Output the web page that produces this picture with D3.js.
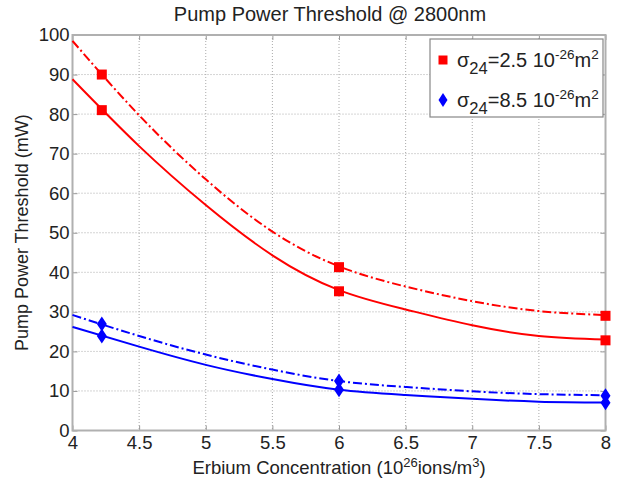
<!DOCTYPE html>
<html>
<head>
<meta charset="utf-8">
<script src="https://cdn.jsdelivr.net/npm/d3@7"></script>
<style>
body { margin: 0; background: #fff; }
text { font-family: "Liberation Sans", Arial, sans-serif; fill: #222; }
</style>
</head>
<body>
<svg></svg>
<script>
// curve samples
var xCurve = [4, 4.5, 5, 5.5, 6, 6.5, 7, 7.5, 8];
var redSolid = [88.8, 71.9, 57.0, 44.3, 35.5, 30.6, 26.6, 23.9, 23.0];
var redDash = [98.5, 79.7, 63.5, 50.3, 41.5, 36.4, 32.7, 30.2, 29.2];
var blueSolid = [26.2, 21.2, 16.6, 13.0, 10.3, 9.0, 8.0, 7.3, 7.1];
var blueDash = [29.2, 23.9, 19.2, 15.4, 12.5, 11.0, 9.9, 9.2, 8.9];

// marker points
var xMark = [4.22, 6, 8];
var redSolidMark = [81.0, 35.2, 22.8];
var redDashMark = [90.0, 41.3, 29.0];
var blueSolidMark = [23.9, 10.3, 7.0];
var blueDashMark = [26.9, 12.5, 8.8];

var xTicks = [4, 4.5, 5, 5.5, 6, 6.5, 7, 7.5, 8];
var yTicks = [0, 10, 20, 30, 40, 50, 60, 70, 80, 90, 100];

var screen = {width: 634, height: 482};
var margins = {top: 35, right: 28.5, bottom: 51.5, left: 72.5};
var width = screen.width - margins.left - margins.right;
var height = screen.height - margins.top - margins.bottom;

var svg = d3.select("svg")
    .attr("width", screen.width)
    .attr("height", screen.height);

var xScale = d3.scaleLinear().domain([4, 8]).range([0, width]);
var yScale = d3.scaleLinear().domain([0, 100]).range([height, 0]);

var g = svg.append("g")
    .attr("transform", "translate(" + margins.left + "," + margins.top + ")");

// grid
g.selectAll(".vgrid").data(xTicks.slice(1, -1)).enter().append("line")
    .attr("x1", function(d){ return xScale(d); })
    .attr("x2", function(d){ return xScale(d); })
    .attr("y1", 0).attr("y2", height)
    .attr("stroke", "#aaa").attr("stroke-dasharray", "1,2");
g.selectAll(".hgrid").data(yTicks.slice(1, -1)).enter().append("line")
    .attr("y1", function(d){ return yScale(d); })
    .attr("y2", function(d){ return yScale(d); })
    .attr("x1", 0).attr("x2", width)
    .attr("stroke", "#aaa").attr("stroke-dasharray", "1,2");

// axes
var xAxis = d3.axisBottom(xScale).tickValues(xTicks).tickSize(-5).tickPadding(5)
    .tickFormat(function(d){ return d; });
var yAxis = d3.axisLeft(yScale).tickValues(yTicks).tickSize(-5).tickPadding(3);

var xa = g.append("g").attr("transform", "translate(0," + height + ")").call(xAxis);
var ya = g.append("g").call(yAxis);
g.append("g").call(d3.axisTop(xScale).tickValues(xTicks).tickSize(-5).tickFormat(""));
g.append("g").attr("transform", "translate(" + width + ",0)")
    .call(d3.axisRight(yScale).tickValues(yTicks).tickSize(-5).tickFormat(""));

g.selectAll(".domain").remove();
g.selectAll(".tick line").attr("stroke", "#999");
xa.selectAll("text").style("font-size", "18.5px").attr("fill", "#222");
ya.selectAll("text").style("font-size", "18.5px").attr("fill", "#222");

g.append("rect")
    .attr("width", width).attr("height", height)
    .attr("fill", "none").attr("stroke", "#b0b0b0").attr("stroke-width", 2);

// lines
var line = d3.line()
    .x(function(d){ return xScale(d[0]); })
    .y(function(d){ return yScale(d[1]); })
    .curve(d3.curveNatural);

var series = [
    {vals: redDash, color: "#ff0000", dash: "9,3,2,3"},
    {vals: redSolid, color: "#ff0000", dash: null},
    {vals: blueDash, color: "#0000ff", dash: "9,3,2,3"},
    {vals: blueSolid, color: "#0000ff", dash: null}
];
series.forEach(function(s){
    g.append("path")
        .datum(xCurve.map(function(x, i){ return [x, s.vals[i]]; }))
        .attr("d", line)
        .attr("fill", "none")
        .attr("stroke", s.color)
        .attr("stroke-width", 2)
        .attr("stroke-dasharray", s.dash);
});

var square = d3.symbol().type(d3.symbolSquare).size(100);
var diamond = "M0,-7.5L5,0L0,7.5L-5,0Z";

[redDashMark, redSolidMark].forEach(function(arr){
    g.selectAll(null).data(arr).enter().append("path")
        .attr("d", square)
        .attr("transform", function(d, i){ return "translate(" + xScale(xMark[i]) + "," + yScale(d) + ")"; })
        .attr("fill", "#ff0000");
});
[blueDashMark, blueSolidMark].forEach(function(arr){
    g.selectAll(null).data(arr).enter().append("path")
        .attr("d", diamond)
        .attr("transform", function(d, i){ return "translate(" + xScale(xMark[i]) + "," + yScale(d) + ")"; })
        .attr("fill", "#0000ff");
});

// title and labels
svg.append("text")
    .attr("x", margins.left + width / 2 - 9).attr("y", 21)
    .attr("text-anchor", "middle").style("font-size", "20px")
    .text("Pump Power Threshold @ 2800nm");

var xl = svg.append("text")
    .attr("x", margins.left + width / 2).attr("y", 474)
    .attr("text-anchor", "middle").style("font-size", "18.5px");
xl.append("tspan").text("Erbium Concentration (10");
xl.append("tspan").attr("dy", -7).style("font-size", "13px").text("26");
xl.append("tspan").attr("dy", 7).text("ions/m");
xl.append("tspan").attr("dy", -7).style("font-size", "13px").text("3");
xl.append("tspan").attr("dy", 7).text(")");

svg.append("text")
    .attr("transform", "translate(28," + (margins.top + height / 2) + ") rotate(-90)")
    .attr("text-anchor", "middle").style("font-size", "18px")
    .text("Pump Power Threshold (mW)");

// legend
var legendItems = [
    {color: "#ff0000", shape: "square", val: "2.5"},
    {color: "#0000ff", shape: "diamond", val: "8.5"}
];
var lg = svg.append("g").attr("transform", "translate(430,39)");
lg.append("rect").attr("width", 173).attr("height", 78)
    .attr("fill", "#fff").attr("stroke", "#888").attr("stroke-width", 1.2);
legendItems.forEach(function(item, i){
    var yy = 21 + i * 40;
    lg.append("path")
        .attr("d", item.shape === "square" ? d3.symbol().type(d3.symbolSquare).size(81)() : "M0,-7L4.5,0L0,7L-4.5,0Z")
        .attr("transform", "translate(13," + yy + ")")
        .attr("fill", item.color);
    var t = lg.append("text").attr("x", 27).attr("y", yy + 7).style("font-size", "20px");
    t.append("tspan").text("\u03c3");
    t.append("tspan").attr("dy", 7).style("font-size", "16.5px").text("24");
    t.append("tspan").attr("dy", -7).text("=" + item.val + " 10");
    t.append("tspan").attr("dy", -8).style("font-size", "13.5px").text("-26");
    t.append("tspan").attr("dy", 8).text("m");
    t.append("tspan").attr("dy", -8).style("font-size", "13.5px").text("2");
});
</script>
</body>
</html>
